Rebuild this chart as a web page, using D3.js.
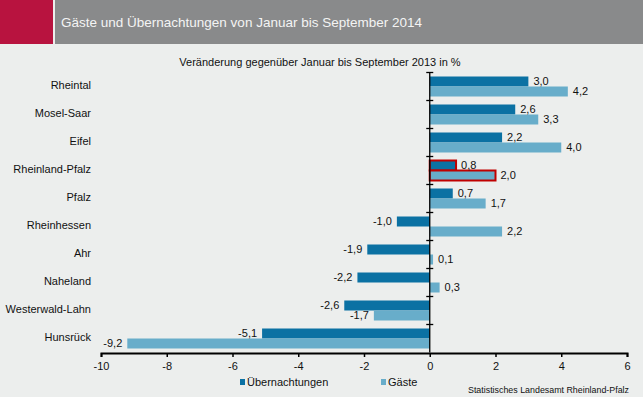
<!DOCTYPE html>
<html>
<head>
<meta charset="utf-8">
<script src="https://cdn.jsdelivr.net/npm/d3@7"></script>
<style>
	body { margin: 0; background: #eceeed; }
	svg { display: block; font-family: "Liberation Sans", Arial, sans-serif; }
</style>
</head>
<body>
<div id="chart"></div>
<script>

// chart data
let regions = ["Rheintal", "Mosel-Saar", "Eifel", "Rheinland-Pfalz", "Pfalz", "Rheinhessen", "Ahr", "Naheland", "Westerwald-Lahn", "Hunsrück"];
let uebernachtungen = [3.0, 2.6, 2.2, 0.8, 0.7, -1.0, -1.9, -2.2, -2.6, -5.1];
let gaeste = [4.2, 3.3, 4.0, 2.0, 1.7, 2.2, 0.1, 0.3, -1.7, -9.2];
let xTicks = [-10, -8, -6, -4, -2, 0, 2, 4, 6];
let seriesNames = ["Übernachtungen", "Gäste"];
let highlight = "Rheinland-Pfalz";

let width = 643, height = 397;
let colors = ["#0b71a3", "#68adca"];

let svg = d3.select("#chart").append("svg")
	.attr("width", width)
	.attr("height", height);

svg.append("rect").attr("width", width).attr("height", height).attr("fill", "#eceeed");

// header
svg.append("rect").attr("x", 0).attr("y", 0).attr("width", 53).attr("height", 44).attr("fill", "#b8133f");
svg.append("rect").attr("x", 55).attr("y", 0).attr("width", width - 55).attr("height", 44).attr("fill", "#898a8b");
svg.append("text")
	.attr("x", 61).attr("y", 27)
	.attr("fill", "#f4f4f4")
	.style("font-size", "13.5px")
	.text("Gäste und Übernachtungen von Januar bis September 2014");

svg.append("text")
	.attr("x", 320).attr("y", 66)
	.attr("text-anchor", "middle")
	.attr("fill", "#111")
	.style("font-size", "11px")
	.text("Veränderung gegenüber Januar bis September 2013 in %");

// scales
let x = d3.scaleLinear().domain([-10, 6]).range([101, 627]);
let y = d3.scaleBand().domain(regions).range([72.5, 352.5]);

let data = regions.map((r, i) => ({ region: r, values: [uebernachtungen[i], gaeste[i]] }));
let fmt = v => d3.format(".1f")(v).replace(".", ",").replace("−", "-");

let groups = svg.selectAll(".region")
	.data(data)
	.enter()
	.append("g")
	.attr("class", "region")
	.attr("transform", d => "translate(0," + y(d.region) + ")");

groups.selectAll(".bar")
	.data(d => d.values.map((v, j) => ({ v: v, j: j, region: d.region })))
	.enter()
	.append("rect")
	.attr("class", "bar")
	.attr("x", d => x(Math.min(0, d.v)))
	.attr("y", d => 4 + d.j * 10)
	.attr("width", d => Math.abs(x(d.v) - x(0)))
	.attr("height", 10)
	.attr("fill", d => colors[d.j])
	.attr("stroke", d => d.region === highlight ? "#c00000" : "none")
	.attr("stroke-width", 2);

groups.selectAll(".val")
	.data(d => d.values.map((v, j) => ({ v: v, j: j })))
	.enter()
	.append("text")
	.attr("class", "val")
	.attr("x", d => d.v < 0 ? x(d.v) - 5 : x(d.v) + 5)
	.attr("y", d => 9 + d.j * 10)
	.attr("dy", "0.35em")
	.attr("text-anchor", d => d.v < 0 ? "end" : "start")
	.attr("fill", "#111")
	.style("font-size", "11px")
	.text(d => fmt(d.v));

// category labels
svg.selectAll(".cat")
	.data(regions)
	.enter()
	.append("text")
	.attr("class", "cat")
	.attr("x", 91)
	.attr("y", d => y(d) + y.bandwidth() / 2 - 1)
	.attr("dy", "0.35em")
	.attr("text-anchor", "end")
	.attr("fill", "#111")
	.style("font-size", "11px")
	.text(d => d);

// y axis line with crossing ticks at band edges
svg.append("line")
	.attr("x1", x(0)).attr("x2", x(0))
	.attr("y1", 72.5).attr("y2", 352.5)
	.attr("stroke", "#000").attr("stroke-width", 1.3);

svg.selectAll(".ytick")
	.data(regions)
	.enter()
	.append("line")
	.attr("class", "ytick")
	.attr("x1", x(0) - 3.5).attr("x2", x(0) + 3.5)
	.attr("y1", d => y(d)).attr("y2", d => y(d))
	.attr("stroke", "#000").attr("stroke-width", 1.3);

// x axis
let xAxis = svg.append("g")
	.attr("transform", "translate(0,353)")
	.call(d3.axisBottom(x).tickValues(xTicks).tickSize(4).tickPadding(5).tickFormat(d => d < 0 ? "-" + Math.abs(d) : d));

xAxis.select(".domain").attr("stroke", "#000").attr("stroke-width", 2);
xAxis.selectAll(".tick line").attr("stroke", "#000").attr("stroke-width", 1.5);
xAxis.selectAll(".tick text").attr("fill", "#111").style("font-size", "11px").style("font-family", "Liberation Sans, Arial, sans-serif");

// legend
let legendX = [240, 381];
let legend = svg.selectAll(".legend")
	.data(seriesNames)
	.enter()
	.append("g")
	.attr("class", "legend")
	.attr("transform", (d, i) => "translate(" + legendX[i] + ",382)");

legend.append("rect")
	.attr("x", 0).attr("y", -3)
	.attr("width", 5).attr("height", 6)
	.attr("fill", (d, i) => colors[i]);

legend.append("text")
	.attr("x", 7).attr("y", 0)
	.attr("dy", "0.35em")
	.attr("fill", "#111")
	.style("font-size", "11px")
	.text(d => d);

// source
svg.append("text")
	.attr("x", 629).attr("y", 393)
	.attr("text-anchor", "end")
	.attr("fill", "#111")
	.style("font-size", "9.5px")
	.attr("textLength", 161)
	.attr("lengthAdjust", "spacingAndGlyphs")
	.text("Statistisches Landesamt Rheinland-Pfalz");

</script>
</body>
</html>
